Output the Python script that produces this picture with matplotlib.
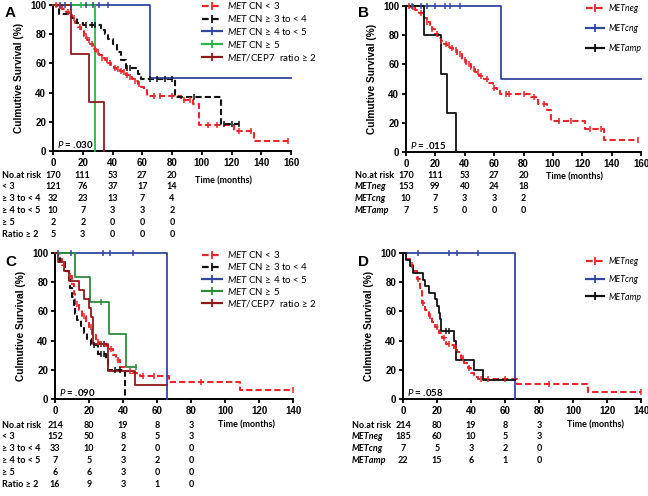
import matplotlib
matplotlib.use("Agg")
import matplotlib.pyplot as plt
from matplotlib.lines import Line2D
from matplotlib.transforms import blended_transform_factory
import numpy as np

plt.rcParams['font.family'] = ['Liberation Sans', 'DejaVu Sans']
plt.rcParams['mathtext.fontset'] = 'custom'
plt.rcParams['mathtext.it'] = 'Lato:italic'
plt.rcParams['mathtext.rm'] = 'Lato'

# ---------------- data ----------------
# panel A  (times in months, survival in %)
a_neg_t = [0, 3, 6, 9, 11, 13, 15, 17, 19, 21, 23, 25, 27, 29, 31, 33, 35, 37, 39, 41, 43, 45, 47, 49, 51, 53, 55, 57, 59, 61, 63, 86, 94, 98, 122, 135, 158]
a_neg_s = [100, 99, 97, 95, 93, 91, 88, 85, 82, 79, 76, 73, 70, 68, 66, 64, 62, 60, 59, 57, 56, 55, 54, 52, 51, 49, 48, 46, 44, 42, 38, 35, 32, 18, 14, 7, 7]
a_neg_c = [2, 5, 10, 14, 18, 22, 24, 26, 28, 30, 33, 36, 38, 42, 44, 46, 48, 50, 52, 55, 58, 68, 72, 80, 88, 92, 104, 110, 125, 133, 158]
a_34_t = [0, 4, 12, 16, 20, 32, 35, 37, 40, 43, 46, 49, 57, 59, 82, 113, 125]
a_34_s = [100, 94, 91, 88, 86, 83, 80, 77, 73, 68, 62, 57, 53, 49.5, 37, 18.5, 18.5]
a_34_c = [22, 26, 28, 50, 52, 65, 70, 75, 80, 95, 115, 120, 125]
a_45_t = [0, 65, 160]
a_45_s = [100, 50, 50]
a_45_c = [4.5, 8, 12, 22, 27, 31, 37]
a_5_t = [0, 28]
a_5_s = [100, 0]
a_5_c = [18.5]
a_ratio_t = [0, 12, 24, 34]
a_ratio_s = [100, 66.7, 33.3, 0]

# panel B
b_neg_t = [0, 3, 6, 9, 12, 14, 16, 18, 20, 22, 24, 26, 28, 30, 32, 35, 38, 41, 44, 47, 50, 53, 56, 59, 62, 64, 85, 90, 96, 99, 122, 135, 158]
b_neg_s = [100, 99, 97, 95, 92, 89, 86, 84, 81, 78, 76, 74, 73, 71, 70, 67, 63, 60, 57, 55, 52, 50, 47, 44, 42, 40, 38, 33, 29, 21, 16, 8, 8]
b_neg_c = [2, 5, 10, 14, 18, 21, 24, 27, 29, 31, 34, 37, 40, 43, 46, 49, 51, 55, 60, 68, 70, 80, 87, 94, 104, 112, 125, 133, 158]
b_cng_t = [0, 65, 160]
b_cng_s = [100, 50, 50]
b_cng_c = [4, 10.5, 14, 20, 26.5, 30, 37]
b_amp_t = [0, 12, 23.5, 28, 34]
b_amp_s = [100, 80, 53.3, 26.7, 0]

# panel C
c_neg_t = [0, 2, 4, 6, 8, 10, 11, 12, 14, 16, 18, 20, 22, 24, 26, 28, 30, 32, 34, 36, 38, 41, 45, 48, 50, 67, 109, 140]
c_neg_s = [100, 96, 92, 88, 84, 79, 72, 65, 61, 57, 53, 49, 44, 39, 38, 38, 36, 34, 30, 27, 22, 19, 18, 16.5, 15.5, 11.5, 6, 6]
c_neg_c = [5, 9, 13, 17, 21, 25, 29, 33, 37, 44, 52, 58, 86, 140]
c_34_t = [0, 3, 6, 8, 9, 10, 11, 12, 13, 15, 17, 19, 21, 25, 30, 31, 41]
c_34_s = [100, 94, 88, 82, 76, 70, 64, 58, 54, 50, 45, 41, 37, 31, 27, 20, 0]
c_34_c = [23, 27, 29, 35, 38]
c_45_t = [0, 66]
c_45_s = [100, 0]
c_45_c = [2, 9.5, 28, 32.5, 46]
c_5_t = [0, 12, 20.5, 32, 42, 47.5]
c_5_s = [100, 83.3, 66.7, 44.4, 22.2, 22.2]
c_5_c = [27, 47.5]
c_ratio_t = [0, 2, 5, 8, 14, 17, 20, 21, 22.5, 31, 47, 66]
c_ratio_s = [100, 94, 87.5, 81, 75, 68.75, 62.5, 56, 38, 19.4, 9.7, 9.7]
c_ratio_c = [27, 29]

# panel D
d_neg_t = [0, 2, 4, 6, 8, 10, 11, 13, 15, 17, 19, 21, 23, 25, 28, 30, 32, 34, 36, 38, 40, 42, 44, 67, 109, 140]
d_neg_s = [100, 96, 92, 88, 82, 76, 66, 61, 57, 53, 49, 45, 42, 38, 37, 35, 32, 28, 25, 21, 18, 15, 13.5, 10, 5, 5]
d_neg_c = [5, 9, 12, 16, 20, 24, 27, 31, 35, 39, 46, 50, 60, 86, 140]
d_cng_t = [0, 66]
d_cng_s = [100, 0]
d_cng_c = [9, 27, 31.5, 44]
d_amp_t = [0, 2, 4, 6, 12, 13, 15, 19, 20, 21, 21.5, 22.5, 30, 31, 42, 47, 66]
d_amp_s = [100, 95.5, 91, 86.4, 81.8, 77.3, 72.7, 68.2, 63.6, 59.1, 54.5, 46.6, 40, 26.7, 20, 13.3, 13.3]
d_amp_c = [25, 27]

risk_times = [0, 20, 40, 60, 80]
a_risk_labels = ["No.at risk", "< 3", "≥ 3 to < 4", "≥ 4 to < 5", "≥ 5", "Ratio ≥ 2"]
a_risk = [[170, 111, 53, 27, 20], [121, 76, 37, 17, 14], [32, 23, 13, 7, 4],
          [10, 7, 3, 3, 2], [2, 2, 0, 0, 0], [5, 3, 0, 0, 0]]
b_risk_labels = ["No.at risk", "METneg", "METcng", "METamp"]
b_risk = [[170, 111, 53, 27, 20], [153, 99, 40, 24, 18], [10, 7, 3, 3, 2], [7, 5, 0, 0, 0]]
c_risk_labels = a_risk_labels
c_risk = [[214, 80, 19, 8, 3], [152, 50, 8, 5, 3], [33, 10, 2, 0, 0],
          [7, 5, 3, 2, 0], [6, 6, 3, 0, 0], [16, 9, 3, 1, 0]]
d_risk_labels = b_risk_labels
d_risk = [[214, 80, 19, 8, 3], [185, 60, 10, 5, 3], [7, 5, 3, 2, 0], [22, 15, 6, 1, 0]]

cn_labels = [r"$\mathit{MET}$ CN < 3", r"$\mathit{MET}$ CN ≥ 3 to < 4", r"$\mathit{MET}$ CN ≥ 4 to < 5",
             r"$\mathit{MET}$ CN ≥ 5", r"$\mathit{MET}$/CEP7  ratio ≥ 2"]
grp_labels = ["METneg", "METcng", "METamp"]

RED = '#e8262d'
BLACK = '#111111'
BLUE = '#3447a0'
GREEN_A = '#2db34a'
GREEN_C = '#2e8b3e'
BROWN = '#8e1b1b'

W, H = 648, 496
fig = plt.figure(figsize=(6.48, 4.96), dpi=100)


def px_axes(l, t, r, b):
    return fig.add_axes([l / W, 1 - b / H, (r - l) / W, (b - t) / H])


def km(ax, t, s, cens, color, dashed):
    ls = (0, (3.0, 1.5)) if dashed else '-'
    lw = 1.5 if dashed else 1.3
    ax.step(t, s, where='post', color=color, lw=lw, linestyle=ls, clip_on=False, zorder=3)
    if cens:
        idx = np.searchsorted(t, cens, side='right') - 1
        ax.plot(cens, np.array(s)[idx], linestyle='none', marker='|', ms=4, mew=1.1,
                color=color, clip_on=False, zorder=4)
    return Line2D([], [], color=color, lw=1.6, linestyle=ls, marker='|', ms=6, mew=1.3)


def style(ax, xmax, pval):
    ax.set_xlim(0, xmax)
    ax.set_ylim(0, 100)
    ax.set_xticks(range(0, xmax + 1, 20))
    ax.set_yticks(range(0, 101, 20))
    for sp in ['top', 'right']:
        ax.spines[sp].set_visible(False)
    for sp in ['left', 'bottom']:
        ax.spines[sp].set_linewidth(1.4)
    ax.tick_params(direction='out', length=3, width=1.3, labelsize=7, pad=2)
    for lab in ax.get_xticklabels() + ax.get_yticklabels():
        lab.set_fontweight('bold')
    ax.set_ylabel("Culmutive Survival (%)", fontsize=7.3, fontweight='bold', labelpad=4)
    ax.text(0.015, 0.02, r"$\mathit{P}$ = " + pval, transform=ax.transAxes, fontsize=7,
            fontweight='bold', family='Lato')


def risk_table(ax, labels, rows, label_x, first_y, italic, time_xy):
    trans = blended_transform_factory(ax.transData, fig.transFigure)
    for i, (lab, vals) in enumerate(zip(labels, rows)):
        y = 1 - (first_y + 11.9 * i) / H
        st = 'italic' if (italic and i > 0) else 'normal'
        fig.text(label_x / W, y, lab, fontsize=6.5, family=['Lato', 'DejaVu Sans'], fontweight='bold',
                 style=st, va='center', ha='left')
        for x, v in zip(risk_times, vals):
            ax.text(x, y, str(v), transform=trans, ha='center', va='center', fontsize=6.5,
                    family='Lato', fontweight='bold', clip_on=False)
    fig.text(time_xy[0] / W, 1 - time_xy[1] / H, "Time (months)", fontsize=6.5, family='Lato',
             fontweight='bold', va='center', ha='left')


def legend(ax, handles, labels, x, y, spacing, italic, size=7):
    prop = {'family': ['Lato', 'DejaVu Sans'], 'size': size}
    if italic:
        prop['style'] = 'italic'
    ax.legend(handles, labels, loc='upper left', bbox_to_anchor=(x / W, 1 - y / H),
              bbox_transform=fig.transFigure, frameon=False, prop=prop, handlelength=2.1,
              handletextpad=0.5, labelspacing=spacing, borderaxespad=0, borderpad=0, numpoints=1)


# ---------------- panel A ----------------
ax = px_axes(53, 5, 291, 151)
h = [km(ax, a_neg_t, a_neg_s, a_neg_c, RED, True),
     km(ax, a_34_t, a_34_s, a_34_c, BLACK, True),
     km(ax, a_45_t, a_45_s, a_45_c, BLUE, False),
     km(ax, a_5_t, a_5_s, a_5_c, GREEN_A, False),
     km(ax, a_ratio_t, a_ratio_s, [], BROWN, False)]
style(ax, 160, ".030")
legend(ax, h, cn_labels, 202, 0, 0.2, False)
risk_table(ax, a_risk_labels, a_risk, 2, 175, False, (195, 181))

# ---------------- panel B ----------------
ax = px_axes(406, 6, 641, 152)
h = [km(ax, b_neg_t, b_neg_s, b_neg_c, RED, True),
     km(ax, b_cng_t, b_cng_s, b_cng_c, BLUE, False),
     km(ax, b_amp_t, b_amp_s, [], BLACK, False)]
style(ax, 160, ".015")
legend(ax, h, grp_labels, 586, 4, 1.25, True, size=6.3)
risk_table(ax, b_risk_labels, b_risk, 355, 175, True, (546, 177))

# ---------------- panel C ----------------
ax = px_axes(55, 253, 293, 399)
h = [km(ax, c_neg_t, c_neg_s, c_neg_c, RED, True),
     km(ax, c_34_t, c_34_s, c_34_c, BLACK, True),
     km(ax, c_45_t, c_45_s, c_45_c, BLUE, False),
     km(ax, c_5_t, c_5_s, c_5_c, GREEN_C, False),
     km(ax, c_ratio_t, c_ratio_s, c_ratio_c, BROWN, False)]
style(ax, 140, ".090")
legend(ax, h, cn_labels, 202, 249, 0.13, False)
risk_table(ax, c_risk_labels, c_risk, 2, 425, False, (218, 425))

# ---------------- panel D ----------------
ax = px_axes(403, 253, 641, 399)
h = [km(ax, d_neg_t, d_neg_s, d_neg_c, RED, True),
     km(ax, d_cng_t, d_cng_s, d_cng_c, BLUE, False),
     km(ax, d_amp_t, d_amp_s, d_amp_c, BLACK, False)]
style(ax, 140, ".058")
legend(ax, h, grp_labels, 586, 257, 1.0, True, size=6.3)
risk_table(ax, d_risk_labels, d_risk, 352, 425, True, (567, 425))

for letter, x, y in [("A", 5, 13), ("B", 358, 13), ("C", 5, 262), ("D", 358, 262)]:
    fig.text(x / W, 1 - y / H, letter, fontsize=11, fontweight='bold', va='center')

fig.savefig("out.png", dpi=100)
